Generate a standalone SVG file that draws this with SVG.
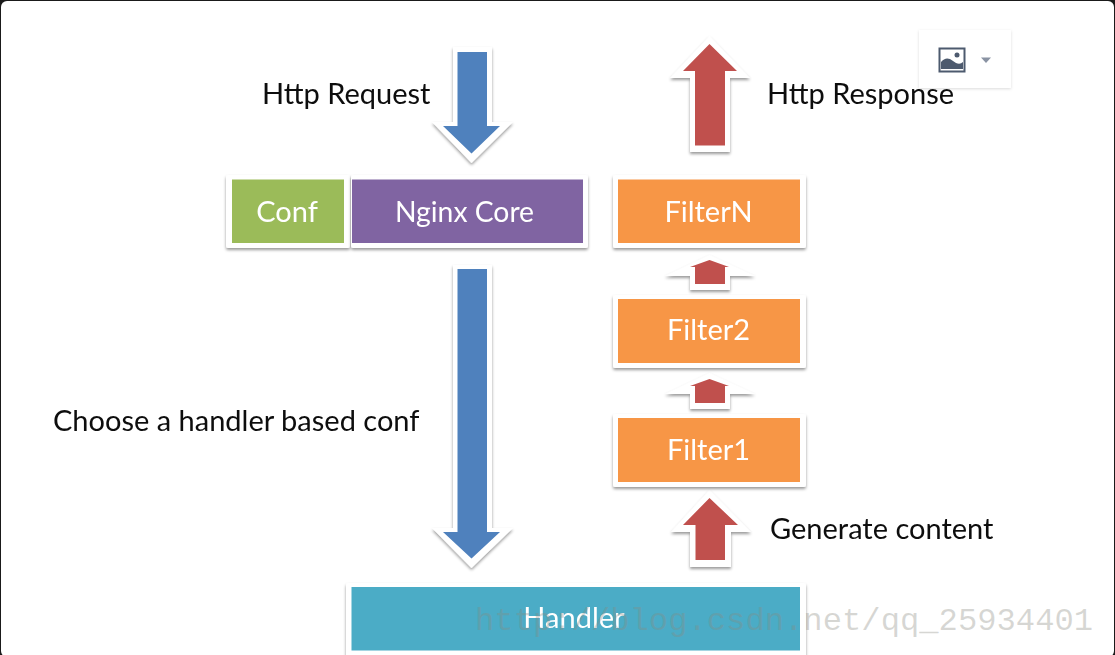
<svg xmlns="http://www.w3.org/2000/svg" width="1115" height="655" viewBox="0 0 1115 655">
<style>
.halo{fill:#fff;filter:url(#shadow)}
.blue{fill:#4f81bd}
.red{fill:#c0504d}
.lbl{font-family:Lato,"Open Sans","Noto Sans",sans-serif;font-size:29px;fill:#0d0d0d;filter:url(#soft)}
.wt{font-family:Lato,"Open Sans","Noto Sans",sans-serif;font-size:29px;fill:#fff;text-anchor:middle;filter:url(#soft)}
.wm{font-family:"Liberation Mono",monospace;font-size:32.2px;fill:#8a8a80;fill-opacity:.34}
</style>
<defs>
<filter id="shadow" x="-20%" y="-20%" width="140%" height="140%"><feDropShadow dx="0" dy="2" stdDeviation="1.6" flood-color="#000" flood-opacity=".4"/></filter>
<filter id="soft" x="-5%" y="-10%" width="110%" height="120%"><feGaussianBlur stdDeviation=".35"/></filter>
<filter id="btn" x="-20%" y="-20%" width="140%" height="140%"><feDropShadow dx="0" dy="1" stdDeviation="1.5" flood-color="#000" flood-opacity=".14"/></filter>
</defs>
<rect width="1115" height="655" fill="#1a1a1a"/>
<rect x="1" y="1" width="1113" height="656" rx="6" fill="#fff"/>

<g id="image-button">
<rect x="919" y="30" width="92" height="58" fill="#fff" filter="url(#btn)"/>
<rect x="939.500" y="48.500" width="25" height="23" fill="#fff" stroke="#4d5a6e" stroke-width="2"/>
<path d="M941 69V62Q945 57 950 59L956 63Q960 65 963 62V69Z" fill="#4d5a6e"/>
<circle cx="957" cy="55" r="2.500" fill="#4d5a6e"/>
<path d="M981 57.500H991L986 63Z" fill="#8a93a3"/>
</g>

<g id="connectors">
<g id="arrow-request">
<path class="halo" d="M453 47H492V122H513L471.500 163L432 122H453Z"/>
<path class="blue" d="M457.500 52H487V126H500L471.500 153.500L443 126H457.500Z"/>
</g>
<g id="arrow-choose">
<path class="halo" d="M453 265H492V528H513L471.500 568L432 528H453Z"/>
<path class="blue" d="M457.500 269H487V532H500L471.500 558.500L443 532H457.500Z"/>
</g>
<g id="arrow-response">
<path class="halo" d="M709.500 36L750 78H730V152H690V78H670Z"/>
<path class="red" d="M709.500 44L737 71H725V145.500H695V71H683Z"/>
</g>
<g id="arrow-filter2-filtern">
<path class="halo" d="M709.500 255L755 276H730V290H690V276H665Z"/>
<path class="red" d="M709.500 260L729 267H725V284H695V267H690Z"/>
</g>
<g id="arrow-filter1-filter2">
<path class="halo" d="M709.500 373L755 394H730V409H690V394H665Z"/>
<path class="red" d="M709.500 379L729 386H725V403H695V386H690Z"/>
</g>
<g id="arrow-generate">
<path class="halo" d="M709.500 490L751 532H731V567H690V532H671Z"/>
<path class="red" d="M709.500 498L738 525H725V560H695.500V525H683Z"/>
</g>
</g>

<g id="conf">
<rect class="halo" x="226" y="175" width="124" height="73" rx="2"/>
<rect x="232" y="179.500" width="112" height="63.500" fill="#9bbb59"/>
<text class="wt" x="287" y="222">Conf</text>
</g>
<g id="nginx-core">
<rect class="halo" x="351" y="175" width="237" height="73" rx="2"/>
<rect x="352" y="179.500" width="231" height="63.500" fill="#8064a2"/>
<text class="wt" x="464.500" y="222" style="font-size:28.300px">Nginx Core</text>
</g>
<g id="filtern">
<rect class="halo" x="613" y="175" width="193" height="73" rx="2"/>
<rect x="618" y="179.500" width="182" height="63.500" fill="#f79646"/>
<text class="wt" x="708.500" y="222">FilterN</text>
</g>
<g id="filter2">
<rect class="halo" x="613" y="295" width="193" height="73" rx="2"/>
<rect x="618" y="299" width="182" height="64" fill="#f79646"/>
<text class="wt" x="708.500" y="340">Filter2</text>
</g>
<g id="filter1">
<rect class="halo" x="613" y="414" width="193" height="73" rx="2"/>
<rect x="618" y="418" width="182" height="64" fill="#f79646"/>
<text class="wt" x="708.500" y="460">Filter1</text>
</g>
<g id="handler">
<rect class="halo" x="346" y="583" width="460" height="76" rx="2"/>
<rect x="351.500" y="587" width="448.500" height="63.500" fill="#4bacc6"/>
<text class="wt" x="574" y="628">Handler</text>
</g>

<g id="labels">
<text class="lbl" x="262" y="104">Http Request</text>
<text class="lbl" x="767" y="104">Http Response</text>
<text class="lbl" x="53" y="431">Choose a handler based conf</text>
<text class="lbl" x="770" y="539">Generate content</text>
</g>
<text class="wm" x="475" y="630">http://blog.csdn.net/qq_25934401</text>
</svg>
